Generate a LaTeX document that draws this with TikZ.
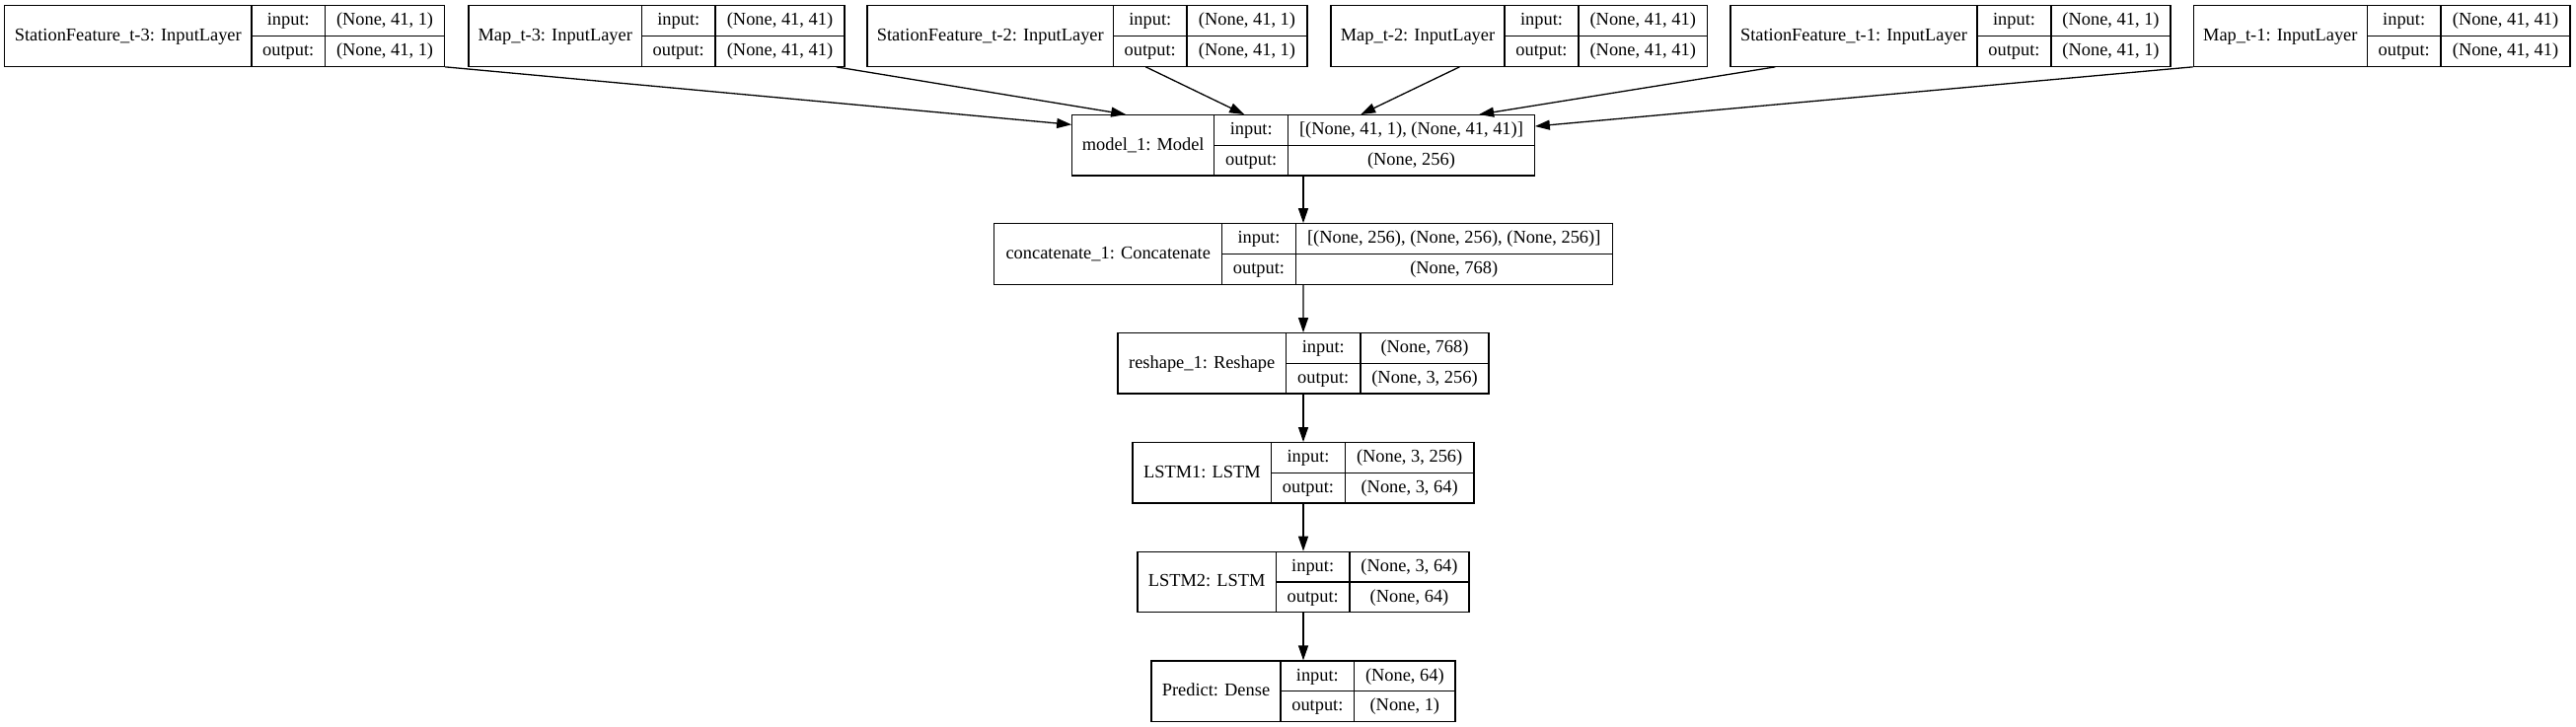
\documentclass[tikz,border=0pt]{standalone}
\usepackage{fontspec}
\setmainfont{Liberation Serif}
\usetikzlibrary{arrows.meta,fit,calc}
\newcommand\klayer[9]{%
  \coordinate (#1-nw) at (#2,#3);
  \coordinate (#1-se) at (#6,{#3+61.4});
  \node[boxframe,fit=(#1-nw)(#1-se)] (#1) {};
  \draw[cellline] (#4,#3) -- (#4,{#3+61.4});
  \draw[cellline] (#5,#3) -- (#5,{#3+61.4});
  \draw[cellline] (#4,{#3+30.7}) -- (#6,{#3+30.7});
  \node[txt] (#1-l) at ({(#2+#4)/2},{#3+30.7}) {#7};
  \node[txt] (#1-i) at ({(#4+#5)/2},{#3+15.35}) {input:};
  \node[txt] (#1-o) at ({(#4+#5)/2},{#3+46.05}) {output:};
  \node[txt] (#1-iv) at ({(#5+#6)/2},{#3+15.35}) {#8};
  \node[txt] (#1-ov) at ({(#5+#6)/2},{#3+46.05}) {#9};
}
\begin{document}
\begin{tikzpicture}[x=0.5pt,y=-0.5pt,
  boxframe/.style={draw,line width=0.65pt,inner sep=0pt,rectangle},
  cellline/.style={line width=0.65pt},
  txt/.style={font=\fontsize{9.2}{11}\selectfont,inner sep=0pt,text height=6.35pt,text depth=1.65pt},
  edge/.style={line width=0.65pt,-{Triangle[length=7.5pt,width=5pt]}}]
\fill[white] (0,0) rectangle (2611,737);
\useasboundingbox (0,0) rectangle (2611,737);
\klayer{sf3}{4.6}{5.8}{255}{329.5}{450.6}{StationFeature\_t-3: InputLayer}{(None, 41, 1)}{(None, 41, 1)}
\klayer{map3}{475}{5.8}{650.5}{725}{856}{Map\_t-3: InputLayer}{(None, 41, 41)}{(None, 41, 41)}
\klayer{sf2}{879}{5.8}{1128.5}{1203}{1325}{StationFeature\_t-2: InputLayer}{(None, 41, 1)}{(None, 41, 1)}
\klayer{map2}{1349}{5.8}{1525}{1600}{1730.5}{Map\_t-2: InputLayer}{(None, 41, 41)}{(None, 41, 41)}
\klayer{sf1}{1754}{5.8}{2004}{2079}{2200}{StationFeature\_t-1: InputLayer}{(None, 41, 1)}{(None, 41, 1)}
\klayer{map1}{2223.3}{5.8}{2399.3}{2474}{2605}{Map\_t-1: InputLayer}{(None, 41, 41)}{(None, 41, 41)}
\klayer{model}{1086.8}{116.7}{1230.7}{1305.7}{1555.2}{model\_1: Model}{[(None, 41, 1), (None, 41, 41)]}{(None, 256)}
\klayer{concat}{1007.8}{226.8}{1238.7}{1313.2}{1634.2}{concatenate\_1: Concatenate}{[(None, 256), (None, 256), (None, 256)]}{(None, 768)}
\klayer{reshape}{1133}{337.7}{1303.5}{1379}{1509}{reshape\_1: Reshape}{(None, 768)}{(None, 3, 256)}
\klayer{lstma}{1148}{448.7}{1288.7}{1363.3}{1494}{LSTM1: LSTM}{(None, 3, 256)}{(None, 3, 64)}
\klayer{lstmb}{1153}{559.3}{1293.3}{1368}{1489}{LSTM2: LSTM}{(None, 3, 64)}{(None, 64)}
\klayer{pred}{1167}{670}{1298}{1372.7}{1475}{Predict: Dense}{(None, 64)}{(None, 1)}
\draw[edge] (sf3.south east) -- ($(model.north west)+(0,10.3)$);
\draw[edge] ($(map3.south east)+(-9,0)$) -- ($(model.north west)+(55,0)$);
\draw[edge] ($(sf2.south west)+(283,0)$) -- ($(model.north west)+(175,0)$);
\draw[edge] ($(map2.south west)+(131,0)$) -- ($(model.north west)+(293,0)$);
\draw[edge] ($(sf1.south west)+(46,0)$) -- ($(model.north west)+(413,0)$);
\draw[edge] (map1.south west) -- ($(model.north east)+(0,12)$);
\draw[edge] (model.south) -- (concat.north);
\draw[edge] (concat.south) -- (reshape.north);
\draw[edge] (reshape.south) -- (lstma.north);
\draw[edge] (lstma.south) -- (lstmb.north);
\draw[edge] (lstmb.south) -- (pred.north);
\end{tikzpicture}
\end{document}
